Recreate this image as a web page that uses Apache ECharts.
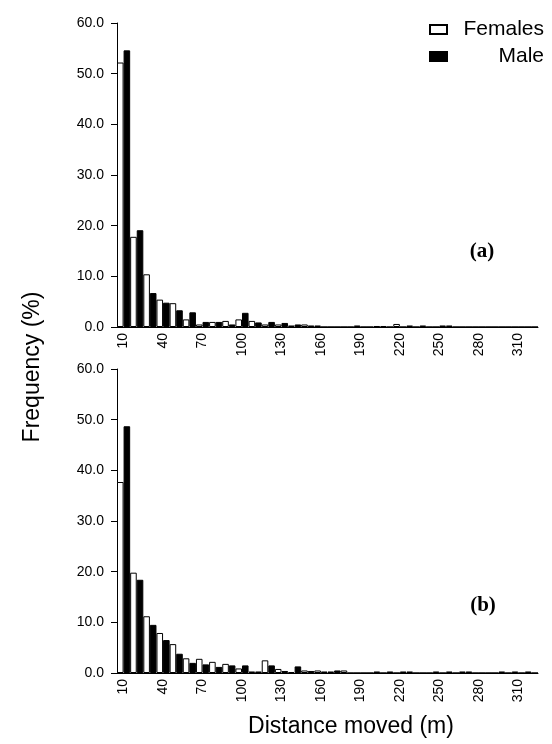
<!DOCTYPE html>
<html>
<head>
<meta charset="utf-8">
<script src="https://cdn.jsdelivr.net/npm/echarts@6/dist/echarts.min.js"></script>
<style>
  html, body { margin: 0; padding: 0; background: #fff; }
  #MyChart { width: 552px; height: 744px; }
</style>
</head>
<body>
<div id="MyChart"></div>
<script>
//距离分类 (m)
var distances = [10, 20, 30, 40, 50, 60, 70, 80, 90, 100, 110, 120, 130, 140, 150, 160,
    170, 180, 190, 200, 210, 220, 230, 240, 250, 260, 270, 280, 290, 300, 310, 320];
var yTicks = [0, 10, 20, 30, 40, 50, 60];

//(a) 频率 (%)
var femalesA = [52.2, 17.8, 10.4, 5.4, 4.7, 1.5, 0.5, 1.0, 1.2, 1.5, 1.2, 0.5, 0.5, 0.3, 0.5, 0.3,
    0, 0, 0.3, 0, 0.2, 0.6, 0.3, 0.3, 0, 0.3, 0, 0, 0, 0, 0, 0];
var maleA = [54.6, 19.1, 6.7, 4.8, 3.3, 2.9, 1.0, 1.0, 0.5, 2.8, 0.9, 1.0, 0.8, 0.5, 0.3, 0,
    0, 0, 0, 0.2, 0, 0, 0, 0, 0.3, 0, 0, 0, 0, 0, 0, 0];

//(b) 频率 (%)
var femalesB = [37.7, 19.8, 11.2, 7.9, 5.7, 2.9, 2.8, 2.2, 1.8, 0.9, 0.3, 2.5, 0.8, 0.2, 0.5, 0.5,
    0.3, 0.5, 0, 0, 0, 0, 0.3, 0, 0.3, 0.3, 0.3, 0, 0, 0.3, 0.3, 0.3];
var maleB = [48.7, 18.4, 9.5, 6.5, 3.8, 2.0, 1.7, 1.2, 1.5, 1.5, 0.3, 1.5, 0.4, 1.3, 0.4, 0.3,
    0.5, 0, 0, 0.3, 0.3, 0.3, 0, 0, 0, 0, 0.3, 0, 0, 0, 0, 0];

var font = "'Liberation Sans', Arial, sans-serif";

function xAxisFor(idx) {
    return {
        type: 'category',
        gridIndex: idx,
        data: distances,
        boundaryGap: true,
        axisLine: { lineStyle: { color: '#000', width: 1 } },
        axisTick: { interval: 0, length: 5, lineStyle: { color: '#000' } },
        axisLabel: {
            interval: 2, rotate: 90, margin: 6,
            color: '#000', fontFamily: font, fontSize: 14
        }
    };
}

function yAxisFor(idx) {
    return {
        type: 'value',
        gridIndex: idx,
        min: yTicks[0],
        max: yTicks[yTicks.length - 1],
        interval: 10,
        splitLine: { show: false },
        axisLine: { show: true, lineStyle: { color: '#000', width: 1 } },
        axisTick: { show: true, length: 6, lineStyle: { color: '#000' } },
        axisLabel: {
            margin: 13, color: '#000', fontFamily: font, fontSize: 14,
            formatter: function (v) { return v.toFixed(1); }
        }
    };
}

function barSeries(name, data, idx) {
    var female = name === 'Females';
    return {
        name: name,
        type: 'bar',
        xAxisIndex: idx,
        yAxisIndex: idx,
        data: data,
        barGap: '0%',
        barCategoryGap: '0%',
        itemStyle: female
            ? { color: '#fff', borderColor: '#000', borderWidth: 1 }
            : { color: '#000', borderColor: '#000', borderWidth: 1 },
        emphasis: { disabled: true }
    };
}

var myChart = echarts.init(document.getElementById('MyChart'), null, { renderer: 'canvas' });
var option = {
    backgroundColor: '#fff',
    animation: false,
    legend: {
        data: ['Females', 'Male'],
        orient: 'vertical',
        left: 429,
        top: 19,
        padding: 0,
        itemGap: 6,
        itemWidth: 17,
        itemHeight: 9,
        itemTextGap: 10,
        icon: 'rect',
        formatter: function (name) { return '{r|' + name + '}'; },
        textStyle: {
            color: '#000', fontFamily: font, fontSize: 21,
            rich: { r: { width: 92, align: 'right', fontSize: 21, fontFamily: font, color: '#000' } }
        }
    },
    grid: [
        { left: 117, top: 23, width: 421, height: 304 },
        { left: 117, top: 369, width: 421, height: 304 }
    ],
    xAxis: [xAxisFor(0), xAxisFor(1)],
    yAxis: [yAxisFor(0), yAxisFor(1)],
    series: [
        barSeries('Females', femalesA, 0),
        barSeries('Male', maleA, 0),
        barSeries('Females', femalesB, 1),
        barSeries('Male', maleB, 1)
    ],
    graphic: [
        {
            type: 'text', x: 33, y: 367, rotation: Math.PI / 2,
            style: { text: 'Frequency (%)', fill: '#000', font: '23px ' + font, textAlign: 'center', textVerticalAlign: 'middle' }
        },
        {
            type: 'text', x: 351, y: 727,
            style: { text: 'Distance moved (m)', fill: '#000', font: '23px ' + font, textAlign: 'center', textVerticalAlign: 'middle' }
        },
        {
            type: 'text', x: 482, y: 252,
            style: { text: '(a)', fill: '#000', font: 'bold 21px "Liberation Serif", "Times New Roman", serif', textAlign: 'center', textVerticalAlign: 'middle' }
        },
        {
            type: 'text', x: 483, y: 606,
            style: { text: '(b)', fill: '#000', font: 'bold 21px "Liberation Serif", "Times New Roman", serif', textAlign: 'center', textVerticalAlign: 'middle' }
        }
    ]
};
myChart.setOption(option);
</script>
</body>
</html>
